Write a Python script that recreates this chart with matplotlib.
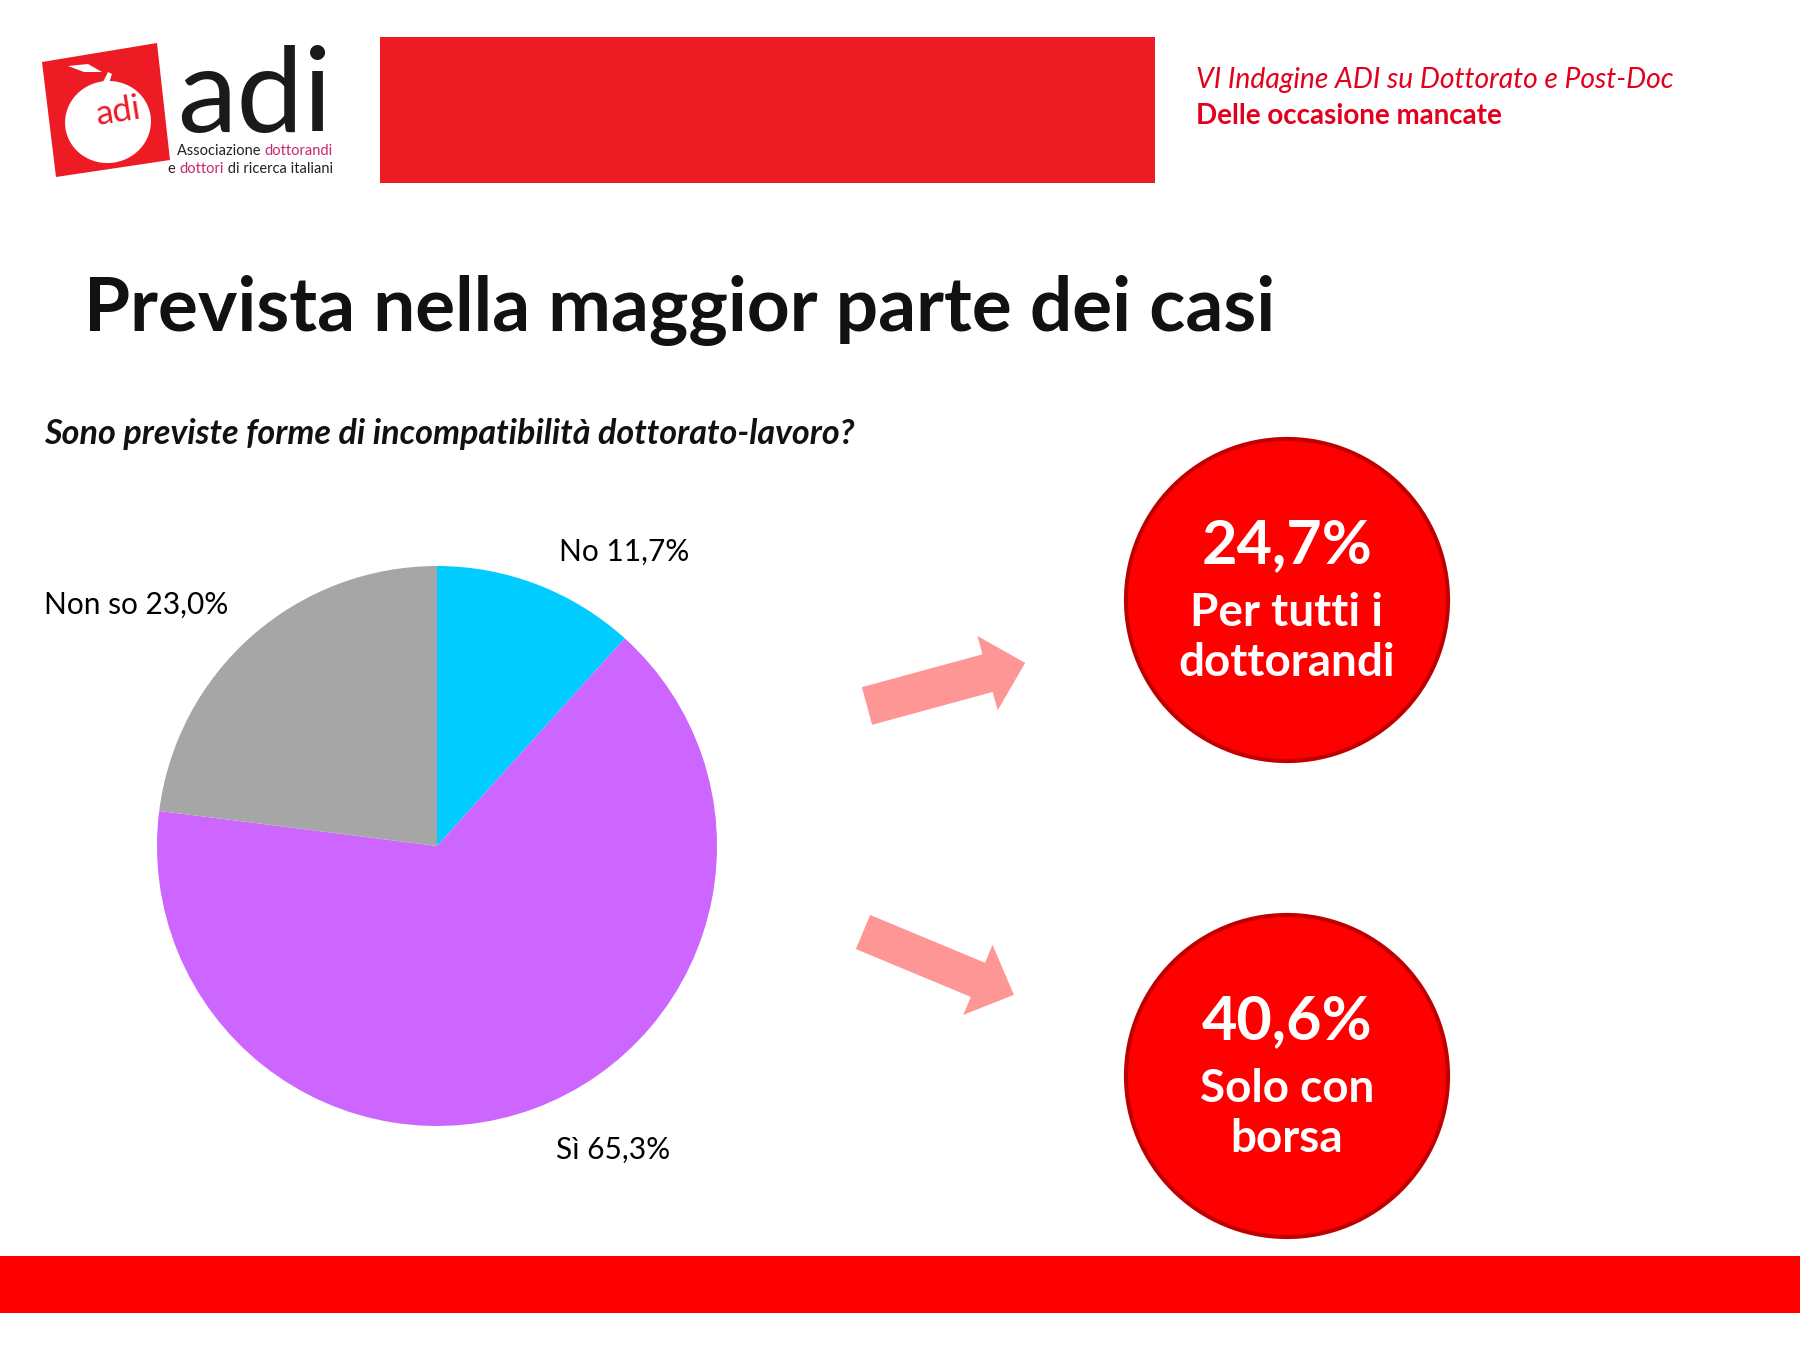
#! /usr/bin/env python3
# -*- coding: utf-8 -*-

' ADI survey slide: incompatibilita dottorato-lavoro '

import matplotlib
matplotlib.use('Agg')
import matplotlib.pyplot as plt
from matplotlib import patches

plt.rcParams['font.family'] = ['Lato', 'DejaVu Sans']

# Data for plotting
categories = ['No', 'Sì', 'Non so']
shares = [11.7, 65.3, 23.0]
slice_colors = ['#00CCFF', '#CC66FF', '#A6A6A6']

highlight_values = [24.7, 40.6]
highlight_captions = ['Per tutti i\ndottorandi', 'Solo con\nborsa']

title = 'Prevista nella maggior parte dei casi'
question = 'Sono previste forme di incompatibilità dottorato-lavoro?'
survey_line1 = 'VI Indagine ADI su Dottorato e Post-Doc'
survey_line2 = 'Delle occasione mancate'

RED = '#FF0000'
BANNER_RED = '#ED1C24'
ARROW_PINK = '#FF9696'
PINK = '#C8266F'


def fmt(v):
    """ italian decimal comma """
    return ('%.1f%%' % v).replace('.', ',')


def draw_runs(ax, x, y, runs, **kw):
    """ draw coloured pieces of text one after another """
    renderer = ax.figure.canvas.get_renderer()
    for s, color in runs:
        t = ax.text(x, y, s, color=color, ha='left', va='center', **kw)
        x += t.get_window_extent(renderer).width


def draw_logo(ax):
    # rotated red square with the apple
    ax.add_patch(patches.Polygon([(42, 62), (157, 43), (170, 160), (56, 177)],
                                 closed=True, fc=BANNER_RED, ec='none'))
    ax.add_patch(patches.Ellipse((108, 122), 86, 82, angle=-9, fc='white', ec='none'))
    ax.add_patch(patches.Polygon([(102, 84), (108, 72), (112, 74), (108, 86)],
                                 closed=True, fc='white', ec='none'))
    ax.add_patch(patches.Polygon([(68, 66), (88, 64), (102, 72), (84, 72)],
                                 closed=True, fc='white', ec='none'))
    ax.text(119, 112, 'adi', color=BANNER_RED, fontsize=25, rotation=9,
            ha='center', va='center')
    ax.text(255, 132, 'adi', color='#1A1A1A', fontsize=86, ha='center',
            va='baseline')
    draw_runs(ax, 177, 151, [('Associazione ', '#222222'), ('dottorandi', PINK)],
              fontsize=10.5)
    draw_runs(ax, 168, 169, [('e ', '#222222'), ('dottori', PINK),
                             (' di ricerca italiani', '#222222')], fontsize=10.5)


def main():
    fig = plt.figure(figsize=(18, 13.5), dpi=100)
    fig.patch.set_facecolor('white')

    ax = fig.add_axes([0, 0, 1, 1])
    ax.set_xlim(0, 1800)
    ax.set_ylim(1350, 0)
    ax.axis('off')

    # header
    draw_logo(ax)
    ax.add_patch(patches.Rectangle((380, 37), 775, 146, fc=BANNER_RED, ec='none'))
    ax.text(1196, 80, survey_line1, color='#E3001B', fontsize=20.3,
            style='italic', ha='left', va='center')
    ax.text(1196, 116, survey_line2, color='#E3001B', fontsize=20,
            weight='bold', ha='left', va='center')

    ax.text(84, 311, title, color='#111111', fontsize=53.8, weight='bold',
            ha='left', va='center')
    ax.text(44, 434, question, color='#111111', fontsize=24.6, weight='bold',
            style='italic', ha='left', va='center')

    # pie
    cx, cy, r = 437, 846, 280
    ax_pie = fig.add_axes([(cx - r) / 1800, 1 - (cy + r) / 1350,
                           2 * r / 1800, 2 * r / 1350])
    ax_pie.pie(shares, colors=slice_colors, startangle=90, counterclock=False,
               wedgeprops={'linewidth': 0})
    ax_pie.set_xlim(-1, 1)
    ax_pie.set_ylim(-1, 1)
    ax_pie.set_aspect('equal')
    ax_pie.axis('off')

    label_pos = {'No': (559, 552), 'Sì': (556, 1150), 'Non so': (44, 605)}
    for cat, val in zip(categories, shares):
        x, y = label_pos[cat]
        ax.text(x, y, '%s %s' % (cat, fmt(val)), color='black', fontsize=21.5,
                ha='left', va='center')

    # arrows
    ax.add_patch(patches.FancyArrow(867, 706, 158 - 39 * 0.96, -43 + 39 * 0.26,
                                    width=39, head_width=77, head_length=39,
                                    length_includes_head=False,
                                    fc=ARROW_PINK, ec='none'))
    ax.add_patch(patches.FancyArrow(863, 932, 150 - 39 * 0.9, 65 - 39 * 0.44,
                                    width=37, head_width=76, head_length=39,
                                    length_includes_head=False,
                                    fc=ARROW_PINK, ec='none'))

    # highlight circles
    for (ccy, val, cap) in zip([600, 1076], highlight_values, highlight_captions):
        ax.add_patch(patches.Circle((1287, ccy), 161, fc=RED, ec='#C00000', lw=3))
        ax.text(1287, ccy - 55, fmt(val), color='white', fontsize=44,
                weight='bold', ha='center', va='center')
        ax.text(1287, ccy + 38, cap, color='white', fontsize=33, weight='bold',
                ha='center', va='center', linespacing=1.25)

    # bottom bar
    ax.add_patch(patches.Rectangle((0, 1256), 1800, 57, fc=RED, ec='none'))

    plt.savefig('out.png', dpi=100, facecolor='white')
    plt.close()


if __name__ == '__main__':
    main()
